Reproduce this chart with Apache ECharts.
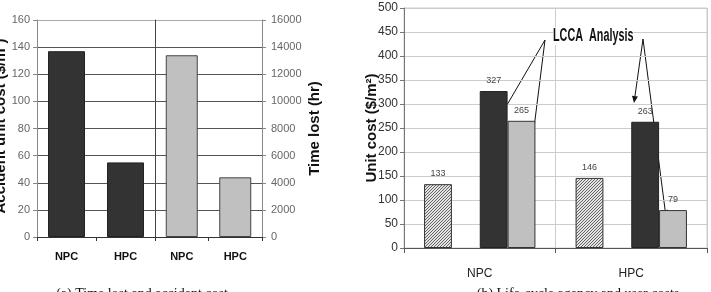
<!DOCTYPE html>
<html>
<head>
<meta charset="utf-8">
<script src="https://cdn.jsdelivr.net/npm/echarts@6/dist/echarts.min.js"></script>
<style>
  html, body { margin: 0; padding: 0; background: #fff; }
  #chart { width: 711px; height: 292px; }
</style>
</head>
<body>
<div id="chart"></div>
<script>
// (a) time lost and accident cost
const leftCats = ['NPC', 'HPC'];
const accidentCost = [137, 55];      // $/m2, left axis
const timeLost = [13400, 4400];      // hr, right axis

// (b) life-cycle agency and user costs
const rightCats = ['NPC', 'HPC'];
const initialCost = [133, 146];      // hatched bars
const blankSlot = [null, null];      // empty slot between hatched and LCCA pair
const lccaDark = [327, 263];
const lccaLight = [265, 79];

const SANS = '"Liberation Sans", Arial, sans-serif';
const SERIF = '"Liberation Serif", "Times New Roman", serif';

// hatched fill for the first series
const hatch = document.createElement('canvas');
hatch.width = 3; hatch.height = 3;
const hc = hatch.getContext('2d');
hc.fillStyle = '#e4e4e4';
hc.fillRect(0, 0, 3, 3);
hc.strokeStyle = '#555';
hc.lineWidth = 0.9;
hc.beginPath();
hc.moveTo(0, 3); hc.lineTo(3, 0);
hc.moveTo(-1, 1); hc.lineTo(1, -1);
hc.moveTo(2, 4); hc.lineTo(4, 2);
hc.stroke();

function arrow(x1, y1, x2, y2) {
  const a = Math.atan2(y2 - y1, x2 - x1);
  const len = 7, w = 3;
  const bx = x2 - len * Math.cos(a), by = y2 - len * Math.sin(a);
  const px = -Math.sin(a) * w, py = Math.cos(a) * w;
  return [
    { type: 'line', shape: { x1: x1, y1: y1, x2: bx, y2: by }, style: { stroke: '#111', lineWidth: 1 } },
    { type: 'polygon', shape: { points: [[x2, y2], [bx + px, by + py], [bx - px, by - py]] }, style: { fill: '#111' } }
  ];
}

const chart = echarts.init(document.getElementById('chart'));

const leftGridColors = ['#555', '#555', '#555', '#555', '#555', '#555', '#555', '#555', '#aaa'];
const plain = v => String(v);

const option = {
  animation: false,
  backgroundColor: '#fff',
  grid: [
    { left: 37, top: 20, width: 118, height: 217 },
    { left: 155, top: 20, width: 107, height: 217 },
    { left: 404, top: 8, right: 4, height: 240, show: true, borderColor: '#ccc', borderWidth: 1 }
  ],
  xAxis: [
    {
      type: 'category', gridIndex: 0, data: leftCats,
      axisLine: { lineStyle: { color: '#333' } },
      axisTick: { show: true, length: 4, lineStyle: { color: '#333' } },
      axisLabel: { margin: 14, color: '#111', fontWeight: 'bold', fontSize: 11, fontFamily: SANS },
      splitLine: { show: false }
    },
    {
      type: 'category', gridIndex: 1, data: leftCats,
      axisLine: { lineStyle: { color: '#333' } },
      axisTick: { show: true, length: 4, lineStyle: { color: '#333' } },
      axisLabel: { margin: 14, color: '#111', fontWeight: 'bold', fontSize: 11, fontFamily: SANS },
      splitLine: { show: false }
    },
    {
      type: 'category', gridIndex: 2, data: rightCats,
      axisLine: { lineStyle: { color: '#555' } },
      axisTick: { show: true, length: 5, lineStyle: { color: '#555' } },
      axisLabel: { margin: 20, color: '#222', fontSize: 12, fontFamily: SANS },
      splitLine: { show: true, lineStyle: { color: '#ccc' } }
    }
  ],
  yAxis: [
    {
      type: 'value', gridIndex: 0, position: 'left', min: 0, max: 160, interval: 20,
      axisLine: { show: true, lineStyle: { color: '#888' } },
      axisTick: { show: true, inside: false, length: 4, lineStyle: { color: '#888' } },
      axisLabel: { margin: 7, color: '#666', fontSize: 11, fontFamily: SANS, formatter: plain },
      splitLine: { show: true, lineStyle: { color: leftGridColors } }
    },
    {
      type: 'value', gridIndex: 1, position: 'right', min: 0, max: 16000, interval: 2000,
      name: 'Time lost (hr)', nameLocation: 'middle', nameRotate: 90, nameGap: 45, nameMoveOverlap: false,
      nameTextStyle: { fontWeight: 'bold', fontSize: 15, color: '#111', fontFamily: SANS },
      axisLine: { show: true, lineStyle: { color: '#888' } },
      axisTick: { show: true, inside: false, length: 4, lineStyle: { color: '#888' } },
      axisLabel: { margin: 9, color: '#666', fontSize: 11, fontFamily: SANS, formatter: plain },
      splitLine: { show: true, lineStyle: { color: leftGridColors } }
    },
    {
      // divider between the two halves of chart (a)
      type: 'value', gridIndex: 1, position: 'left', min: 0, max: 16000, interval: 2000,
      axisLine: { show: true, lineStyle: { color: '#444' } },
      axisTick: { show: false }, axisLabel: { show: false }, splitLine: { show: false }
    },
    {
      type: 'value', gridIndex: 2, min: 0, max: 500, interval: 50,
      name: 'Unit cost ($/m\u00B2)', nameLocation: 'middle', nameRotate: 90, nameGap: 25, nameMoveOverlap: false,
      nameTextStyle: { fontWeight: 'bold', fontSize: 15, color: '#111', fontFamily: SANS },
      axisLine: { show: true, lineStyle: { color: '#777' } },
      axisTick: { show: true, inside: false, length: 4, lineStyle: { color: '#777' } },
      axisLabel: { margin: 6, color: '#333', fontSize: 12, fontFamily: SANS, formatter: plain },
      splitLine: { show: true, lineStyle: { color: '#ccc' } }
    }
  ],
  series: [
    {
      name: 'Accident unit cost', type: 'bar', xAxisIndex: 0, yAxisIndex: 0,
      data: accidentCost, barWidth: 37,
      itemStyle: { color: '#333', borderColor: '#222', borderWidth: 1 }
    },
    {
      name: 'Time lost', type: 'bar', xAxisIndex: 1, yAxisIndex: 1,
      data: timeLost, barWidth: 32,
      itemStyle: { color: '#c0c0c0', borderColor: '#444', borderWidth: 1 }
    },
    {
      name: 'Initial cost', type: 'bar', xAxisIndex: 2, yAxisIndex: 3,
      data: initialCost, barGap: '0%', barCategoryGap: '26.5%',
      itemStyle: { color: { image: hatch, repeat: 'repeat' }, borderColor: '#333', borderWidth: 1 },
      label: { show: true, position: 'top', distance: 6, color: '#444', fontSize: 9, fontFamily: SANS }
    },
    {
      name: 'blank', type: 'bar', xAxisIndex: 2, yAxisIndex: 3,
      data: blankSlot, barGap: '0%', barCategoryGap: '26.5%'
    },
    {
      name: 'LCCA agency', type: 'bar', xAxisIndex: 2, yAxisIndex: 3,
      data: lccaDark, barGap: '0%', barCategoryGap: '26.5%',
      itemStyle: { color: '#333', borderColor: '#222', borderWidth: 1 },
      label: { show: true, position: 'top', distance: 6, color: '#444', fontSize: 9, fontFamily: SANS }
    },
    {
      name: 'LCCA user', type: 'bar', xAxisIndex: 2, yAxisIndex: 3,
      data: lccaLight, barGap: '0%', barCategoryGap: '26.5%',
      itemStyle: { color: '#c0c0c0', borderColor: '#333', borderWidth: 1 },
      label: { show: true, position: 'top', distance: 6, color: '#444', fontSize: 9, fontFamily: SANS }
    }
  ],
  graphic: [
    // left axis title of chart (a), partly cut off by the page edge as in the source
    {
      type: 'text', x: 1, y: 126, rotation: Math.PI / 2,
      style: { text: 'Accident unit cost ($/m\u00B2)', fontSize: 15, fontWeight: 'bold', fontFamily: SANS, fill: '#111', align: 'center', verticalAlign: 'middle' }
    },
    ...arrow(545, 40, 497, 122),
    ...arrow(545, 40, 530, 160),
    ...arrow(643, 39, 634, 103),
    ...arrow(643, 39, 666, 217),
    {
      type: 'text', x: 553, y: 27, scaleX: 0.6, z: 10,
      style: { text: 'LCCA  Analysis', fontSize: 18, fontWeight: 'bold', fontFamily: SANS, fill: '#111', verticalAlign: 'top', backgroundColor: '#fff' }
    },
    {
      type: 'text', x: 142, y: 287,
      style: { text: '(a) Time lost and accident cost', fontSize: 14, fontFamily: SERIF, fill: '#111', align: 'center', verticalAlign: 'top' }
    },
    {
      type: 'text', x: 578, y: 287,
      style: { text: '(b) Life-cycle agency and user costs', fontSize: 14, fontFamily: SERIF, fill: '#111', align: 'center', verticalAlign: 'top' }
    }
  ]
};

chart.setOption(option);
</script>
</body>
</html>
